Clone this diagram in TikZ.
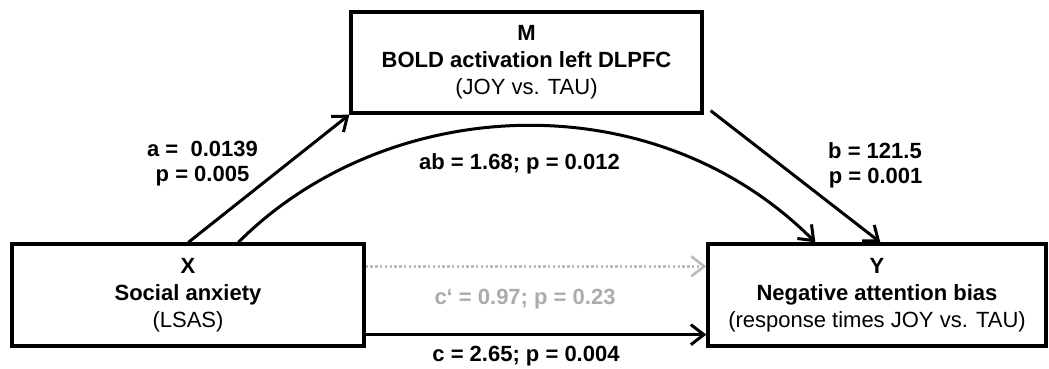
\documentclass[tikz,border=0pt]{standalone}
\usepackage{fontspec}
\setmainfont{Liberation Sans}
\usetikzlibrary{arrows.meta,calc}
\begin{document}
\begin{tikzpicture}[x=1pt,y=-1pt,
  every node/.style={font=\fontsize{22}{27}\selectfont},
  varbox/.style={draw,line width=3.3pt,align=center,inner sep=0pt},
  lbl/.style={align=center,inner sep=0pt,font=\fontsize{22}{25}\selectfont\bfseries},
  path/.style={line width=3pt,-{Straight Barb[length=13pt,width=20pt,line width=3pt]}},
  greypath/.style={draw=black!27,line width=2.6pt,dash pattern=on 2.4pt off 2.4pt,
     -{Straight Barb[length=13pt,width=20pt,line width=2.6pt,sep=0pt]}}
]
\useasboundingbox (0,0) rectangle (1049,369);
\node[varbox,minimum width=352pt,minimum height=102pt] (X) at (188,295)
  {\textbf{X}\\\textbf{Social anxiety}\\(LSAS)};
\node[varbox,minimum width=338pt,minimum height=102pt] (Y) at (877,295)
  {\textbf{Y}\\\textbf{Negative attention bias}\\(response times JOY vs. TAU)};
\node[varbox,minimum width=351pt,minimum height=101pt] (M) at (526.5,62.5)
  {\textbf{M}\\\textbf{BOLD activation left DLPFC}\\(JOY vs. TAU)};

\coordinate (aS) at ($(X.north west)+(178,0)$);
\coordinate (abS) at ($(X.north west)+(228,0)$);
\coordinate (bS) at ($(M.south east)+(7,-4)$);
\coordinate (abE) at ($(Y.north west)+(109,0)$);
\coordinate (bE) at ($(Y.north west)+(174,0)$);

\draw[path] (aS) -- (M.south west);
\draw[path] (bS) -- (bE);
\draw[path] (abS) .. controls ($(abS)+(148,-148)$) and ($(abE)+(-163,-163)$) .. (abE);
\draw[greypath] ($(X.north east)+(0,24)$) -- ($(Y.north west)+(0,24)$);
\draw[path] ($(X.south east)+(0,-13)$) -- ($(Y.south west)+(0,-13)$);

\node[lbl] (la) at (202.5,164) {a =\ \ 0.0139\\p = 0.005};
\node[lbl] (lb) at (875,165) {b = 121.5\\\hphantom{b}p = 0.001\hphantom{5}};
\node[lbl] (lab) at (519.5,164) {ab = 1.68; p = 0.012};
\node[lbl,text=black!33] (lc1) at (525,299) {c‘ = 0.97; p = 0.23};
\node[lbl] (lc) at (526,356) {c = 2.65; p = 0.004};
\end{tikzpicture}
\end{document}
